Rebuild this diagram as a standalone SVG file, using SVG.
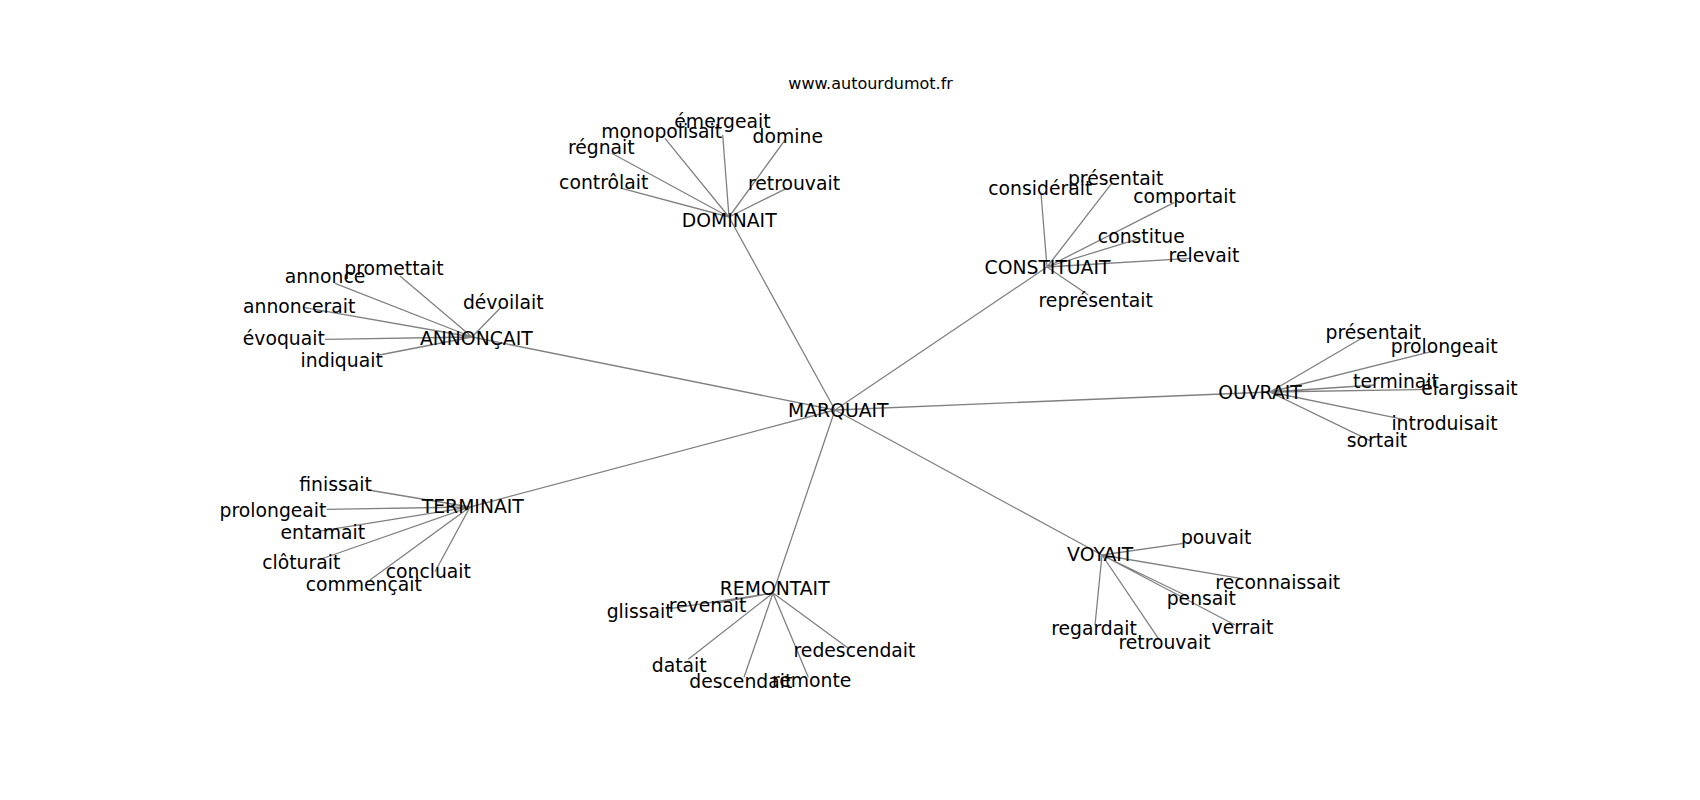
<svg xmlns="http://www.w3.org/2000/svg" width="1700" height="800" viewBox="0 0 1700 800">
<style>
.e{stroke:#808080;stroke-width:1.3;fill:none}
text{font-family:"DejaVu Sans",sans-serif;font-size:18.8px;fill:#000;text-anchor:middle}
.t{font-size:16px}
</style>
<rect width="1700" height="800" fill="#fff"/>
<g id="edges" class="e">
<path d="M835 410L729 217M835 410L1047 267M835 410L472 337M835 410L1270 392M835 410L470 507M835 410L773 593M835 410L1102 555"/>
<path d="M729 217L621.7 188.3M729 217L611.7 153.3M729 217L665 138.3M729 217L722.7 135M729 217L785 140M729 217L786.7 188.3"/>
<path d="M1047 267L1041 193.3M1047 267L1111.7 183.3M1047 267L1174 202.7M1047 267L1136.7 239.3M1047 267L1190 258.3M1047 267L1088.3 295"/>
<path d="M472 337L335 283.3M472 337L400 276M472 337L303.3 307.3M472 337L500 308.3M472 337L325 339.3M472 337L379.3 355"/>
<path d="M1270 392L1361.7 338.3M1270 392L1435 350.7M1270 392L1375 385M1270 392L1430 389.3M1270 392L1403.3 419.3M1270 392L1370 440.7"/>
<path d="M470 507L368.3 490M470 507L326.7 509.3M470 507L316.7 531.7M470 507L318.3 560M470 507L435 571.7M470 507L370 580"/>
<path d="M773 593L671.7 608.3M773 593L716.7 603M773 593L688.3 659.3M773 593L744 677.3M773 593L808.3 677.3M773 593L848.3 648.3"/>
<path d="M1102 555L1183.3 543.3M1102 555L1240 578.3M1102 555L1186.7 596M1102 555L1235 625M1102 555L1095 625M1102 555L1158.3 638.3"/>
</g>
<text class="t" x="870.6" y="89">www.autourdumot.fr</text>
<g id="MARQUAIT"><text x="838.3" y="416.7">MARQUAIT</text></g>
<g id="DOMINAIT"><text x="729.2" y="226.7">DOMINAIT</text></g>
<g id="n_controlait"><text x="603.7" y="189.3">contrôlait</text></g>
<g id="n_regnait"><text x="601.3" y="154.3">régnait</text></g>
<g id="n_monopolisait"><text x="661.7" y="138.3">monopolisait</text></g>
<g id="n_emergeait"><text x="722.5" y="128.3">émergeait</text></g>
<g id="n_domine"><text x="787.8" y="142.7">domine</text></g>
<g id="n_retrouvait1"><text x="794" y="190">retrouvait</text></g>
<g id="CONSTITUAIT"><text x="1047.5" y="274.3">CONSTITUAIT</text></g>
<g id="n_considerait"><text x="1040.3" y="195">considérait</text></g>
<g id="n_presentait1"><text x="1115.7" y="185">présentait</text></g>
<g id="n_comportait"><text x="1184.5" y="203.3">comportait</text></g>
<g id="n_constitue"><text x="1141.3" y="243.3">constitue</text></g>
<g id="n_relevait"><text x="1204" y="261.7">relevait</text></g>
<g id="n_representait"><text x="1095.7" y="306.7">représentait</text></g>
<g id="ANNONCAIT"><text x="476.3" y="345">ANNONÇAIT</text></g>
<g id="n_annonce"><text x="325" y="282.7">annonce</text></g>
<g id="n_promettait"><text x="394" y="275">promettait</text></g>
<g id="n_annoncerait"><text x="299.2" y="313.3">annoncerait</text></g>
<g id="n_devoilait"><text x="503.2" y="309.3">dévoilait</text></g>
<g id="n_evoquait"><text x="283.8" y="345">évoquait</text></g>
<g id="n_indiquait"><text x="341.7" y="366.7">indiquait</text></g>
<g id="OUVRAIT"><text x="1260" y="399.3">OUVRAIT</text></g>
<g id="n_presentait2"><text x="1373.3" y="339.3">présentait</text></g>
<g id="n_prolongeait1"><text x="1444.2" y="353.3">prolongeait</text></g>
<g id="n_terminait"><text x="1396" y="387.7">terminait</text></g>
<g id="n_elargissait"><text x="1469.5" y="395">élargissait</text></g>
<g id="n_introduisait"><text x="1444.5" y="430">introduisait</text></g>
<g id="n_sortait"><text x="1377" y="446.7">sortait</text></g>
<g id="TERMINAIT"><text x="472.8" y="513.3">TERMINAIT</text></g>
<g id="n_finissait"><text x="335.5" y="491">finissait</text></g>
<g id="n_prolongeait2"><text x="273" y="516.7">prolongeait</text></g>
<g id="n_entamait"><text x="322.8" y="539.3">entamait</text></g>
<g id="n_cloturait"><text x="301.2" y="569.3">clôturait</text></g>
<g id="n_concluait"><text x="428.3" y="578.3">concluait</text></g>
<g id="n_commencait"><text x="363.8" y="590.7">commençait</text></g>
<g id="REMONTAIT"><text x="774.7" y="595">REMONTAIT</text></g>
<g id="n_glissait"><text x="639.7" y="618.3">glissait</text></g>
<g id="n_revenait"><text x="707.5" y="611.7">revenait</text></g>
<g id="n_redescendait"><text x="854.5" y="657.3">redescendait</text></g>
<g id="n_datait"><text x="679.2" y="671.7">datait</text></g>
<g id="n_descendait"><text x="740.8" y="688.3">descendait</text></g>
<g id="n_remonte"><text x="811.7" y="686.7">remonte</text></g>
<g id="VOYAIT"><text x="1100.2" y="560.7">VOYAIT</text></g>
<g id="n_pouvait"><text x="1216.2" y="544">pouvait</text></g>
<g id="n_reconnaissait"><text x="1277.8" y="589.3">reconnaissait</text></g>
<g id="n_pensait"><text x="1201.3" y="605">pensait</text></g>
<g id="n_verrait"><text x="1242.5" y="634">verrait</text></g>
<g id="n_regardait"><text x="1094" y="635">regardait</text></g>
<g id="n_retrouvait2"><text x="1164.5" y="649.3">retrouvait</text></g>
</svg>
